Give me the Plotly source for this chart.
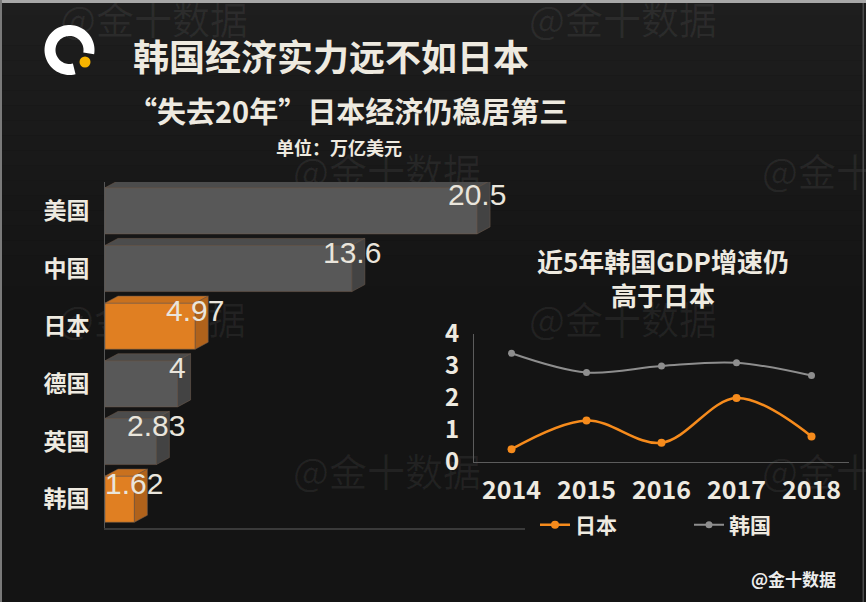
import math
import plotly.graph_objects as go

# ---------------- data ----------------
countries = ["美国", "中国", "日本", "德国", "英国", "韩国"]
gdp = [20.5, 13.6, 4.97, 4, 2.83, 1.62]
gdp_labels = ["20.5", "13.6", "4.97", "4", "2.83", "1.62"]
highlight = [False, False, True, False, False, True]

years = ["2014", "2015", "2016", "2017", "2018"]
japan_growth = [0.4, 1.3, 0.6, 2.0, 0.8]
korea_growth = [3.4, 2.8, 3.0, 3.1, 2.7]

title = "韩国经济实力远不如日本"
subtitle = "“失去20年”日本经济仍稳居第三"
unit = "单位：万亿美元"
line_title = "近5年韩国GDP增速仍<br>高于日本"
source = "@金十数据"

# ---------------- geometry helpers ----------------
W, H = 866, 602
CJK = "Noto Sans CJK SC"
TXT = "#eeeae0"


def px(x):
    return x / W


def py(y):
    return 1 - y / H


BX0, BX1 = 105, 525
BY0, BY1 = 182, 528
ux = 18.15                      # px per trillion
bar_xmax = (BX1 - BX0) / ux
uy = (BY1 - BY0) / len(countries)
ddx = 13 / ux                   # 3D depth in data units
ddy = 7 / uy
bw = 0.8

front_col = {True: "#e07f22", False: "#585858"}
top_col = {True: "#c9711e", False: "#4c4c4c"}
side_col = {True: "#b0621b", False: "#434343"}
edge_col = "rgba(110,90,75,0.7)"

fig = go.Figure()

idx = list(range(len(countries)))

# front faces
fig.add_trace(go.Bar(
    x=gdp, y=idx, orientation="h", width=bw,
    marker=dict(color=[front_col[h] for h in highlight],
                line=dict(color=edge_col, width=0.8)),
    showlegend=False, hoverinfo="skip", xaxis="x", yaxis="y"))

# top and side faces (3D effect)
for i, (v, h) in enumerate(zip(gdp, highlight)):
    yt = i - bw / 2
    yb = i + bw / 2
    fig.add_trace(go.Scatter(
        x=[0, ddx, v + ddx, v, 0], y=[yt, yt - ddy, yt - ddy, yt, yt],
        fill="toself", fillcolor=top_col[h], mode="lines",
        line=dict(color=edge_col, width=0.8),
        showlegend=False, hoverinfo="skip", xaxis="x", yaxis="y"))
    fig.add_trace(go.Scatter(
        x=[v, v + ddx, v + ddx, v, v], y=[yt, yt - ddy, yb - ddy, yb, yt],
        fill="toself", fillcolor=side_col[h], mode="lines",
        line=dict(color=edge_col, width=0.8),
        showlegend=False, hoverinfo="skip", xaxis="x", yaxis="y"))

# line chart
fig.add_trace(go.Scatter(
    x=years, y=japan_growth, name="日本", mode="lines+markers",
    line=dict(color="#f68b1c", width=2.5, shape="spline", smoothing=1),
    marker=dict(size=8, color="#f68b1c"), xaxis="x2", yaxis="y2"))
fig.add_trace(go.Scatter(
    x=years, y=korea_growth, name="韩国", mode="lines+markers",
    line=dict(color="#8e8e8e", width=2, shape="spline", smoothing=1),
    marker=dict(size=7, color="#8e8e8e"), xaxis="x2", yaxis="y2"))

annotations = []

# bar value labels
for i, (v, t) in enumerate(zip(gdp, gdp_labels)):
    annotations.append(dict(
        x=v, y=i, xref="x", yref="y", text=t, showarrow=False,
        xanchor="center", yanchor="middle", yshift=16,
        font=dict(family="Liberation Sans", size=30, color="#e9e5dc")))

# titles
annotations += [
    dict(x=px(131), y=py(55), xref="paper", yref="paper", text=title,
         showarrow=False, xanchor="left", yanchor="middle",
         font=dict(family=CJK, size=36, color=TXT, weight="bold")),
    dict(x=px(126), y=py(110), xref="paper", yref="paper", text=subtitle,
         showarrow=False, xanchor="left", yanchor="middle",
         font=dict(family=CJK, size=29, color=TXT, weight="bold")),
    dict(x=px(274), y=py(147), xref="paper", yref="paper", text=unit,
         showarrow=False, xanchor="left", yanchor="middle",
         font=dict(family=CJK, size=18, color=TXT, weight="bold")),
    dict(x=px(663), y=py(277), xref="paper", yref="paper", text=line_title,
         showarrow=False, xanchor="center", yanchor="middle", align="center",
         font=dict(family=CJK, size=26, color=TXT, weight="bold")),
    dict(x=px(838), y=py(578), xref="paper", yref="paper", text=source,
         showarrow=False, xanchor="right", yanchor="middle",
         font=dict(family=CJK, size=17, color="#ececec", weight="bold")),
]

# ---------------- decorative shapes ----------------
shapes = []
# background gradient bands
n_b = 40
for k in range(n_b):
    y0 = H * k / n_b
    y1 = H * (k + 1) / n_b
    t = min(1.0, ((y0 + y1) / 2) / 300)
    c = int(round(30 - 10 * t))
    shapes.append(dict(type="rect", xref="paper", yref="paper", layer="below",
                       x0=0, x1=1, y0=py(y1), y1=py(y0),
                       fillcolor=f"rgb({c},{c},{c})", line=dict(width=0)))

# watermarks (drawn beneath the marks, as shape labels)
wm_pos = [(154, 23), (623, 23), (387, 175), (856, 175), (152, 323), (623, 323),
          (387, 475), (856, 475), (154, 627), (623, 627)]
for (x, y) in wm_pos:
    shapes.append(dict(type="rect", xref="paper", yref="paper", layer="below",
                       x0=px(x - 100), x1=px(x + 100), y0=py(y + 25), y1=py(y - 25),
                       fillcolor="rgba(0,0,0,0)", line=dict(width=0),
                       label=dict(text=source, textposition="middle center",
                                  font=dict(family=CJK, size=38,
                                            color="rgba(255,255,255,0.06)"))))

# frame
shapes += [
    dict(type="rect", xref="paper", yref="paper", layer="below",
         x0=0, x1=1, y0=py(3), y1=1, fillcolor="#a8a8a8", line=dict(width=0)),
    dict(type="rect", xref="paper", yref="paper", layer="below",
         x0=0, x1=px(2), y0=0, y1=1, fillcolor="#7a7a7a", line=dict(width=0)),
    dict(type="rect", xref="paper", yref="paper", layer="below",
         x0=px(862.5), x1=px(864), y0=0, y1=py(3), fillcolor="#4a4a4a", line=dict(width=0)),
]

# logo ring
def ring_path(cx, cy, ro, ri, a0, a1, n=60):
    pts = []
    for k in range(n + 1):
        a = math.radians(a0 + (a1 - a0) * k / n)
        pts.append((cx + ro * math.cos(a), cy + ro * math.sin(a)))
    for k in range(n, -1, -1):
        a = math.radians(a0 + (a1 - a0) * k / n)
        pts.append((cx + ri * math.cos(a), cy + ri * math.sin(a)))
    return "M " + " L ".join(f"{px(x):.5f},{py(y):.5f}" for x, y in pts) + " Z"


shapes.append(dict(type="path", xref="paper", yref="paper",
                   path=ring_path(69.5, 50, 25, 14, 76, 370),
                   fillcolor="#ffffff", line=dict(width=0)))
shapes.append(dict(type="circle", xref="paper", yref="paper",
                   x0=px(85 - 5.5), x1=px(85 + 5.5), y0=py(62 + 5.5), y1=py(62 - 5.5),
                   fillcolor="#f7b400", line=dict(width=0)))

fig.update_layout(
    template="none",
    width=W, height=H,
    margin=dict(l=0, r=0, t=0, b=0, pad=0, autoexpand=False),
    paper_bgcolor="#151515", plot_bgcolor="rgba(0,0,0,0)",
    annotations=annotations, shapes=shapes,
    showlegend=True,
    legend=dict(orientation="h", x=px(535), y=py(525), xanchor="left", yanchor="middle",
                entrywidth=109, entrywidthmode="pixels",
                bgcolor="rgba(0,0,0,0)",
                font=dict(family=CJK, size=21, color=TXT, weight="bold")),
    xaxis=dict(domain=[px(BX0), px(BX1)], range=[0, bar_xmax], anchor="y",
               automargin=False,
               showticklabels=False, showgrid=False, zeroline=False,
               showline=True, linecolor="#3a3a3a", linewidth=2, ticks=""),
    yaxis=dict(domain=[py(BY1), py(BY0)], range=[len(countries) - 0.5, -0.5],
               anchor="x", tickvals=idx, ticktext=countries, ticks="",
               automargin=False,
               ticklabelstandoff=10, showgrid=False, zeroline=False,
               showline=True, linecolor="#555555", linewidth=1,
               tickfont=dict(family=CJK, size=23, color=TXT, weight="bold")),
    xaxis2=dict(domain=[px(474), px(849)], anchor="y2", type="category",
                automargin=False,
                range=[-0.5, 4.5], showgrid=False, zeroline=False,
                showline=True, linecolor="#5c5c5c", linewidth=1, ticks="",
                ticklabelstandoff=6,
                tickfont=dict(family=CJK, size=25, color=TXT, weight="bold")),
    yaxis2=dict(domain=[py(462), py(334)], anchor="x2", range=[0, 4], dtick=1,
                automargin=False,
                showgrid=False, zeroline=False, showline=True,
                linecolor="#5c5c5c", linewidth=1, ticks="",
                ticklabelstandoff=9,
                tickfont=dict(family=CJK, size=24, color=TXT, weight="bold")),
)

fig.write_html("out.html")
